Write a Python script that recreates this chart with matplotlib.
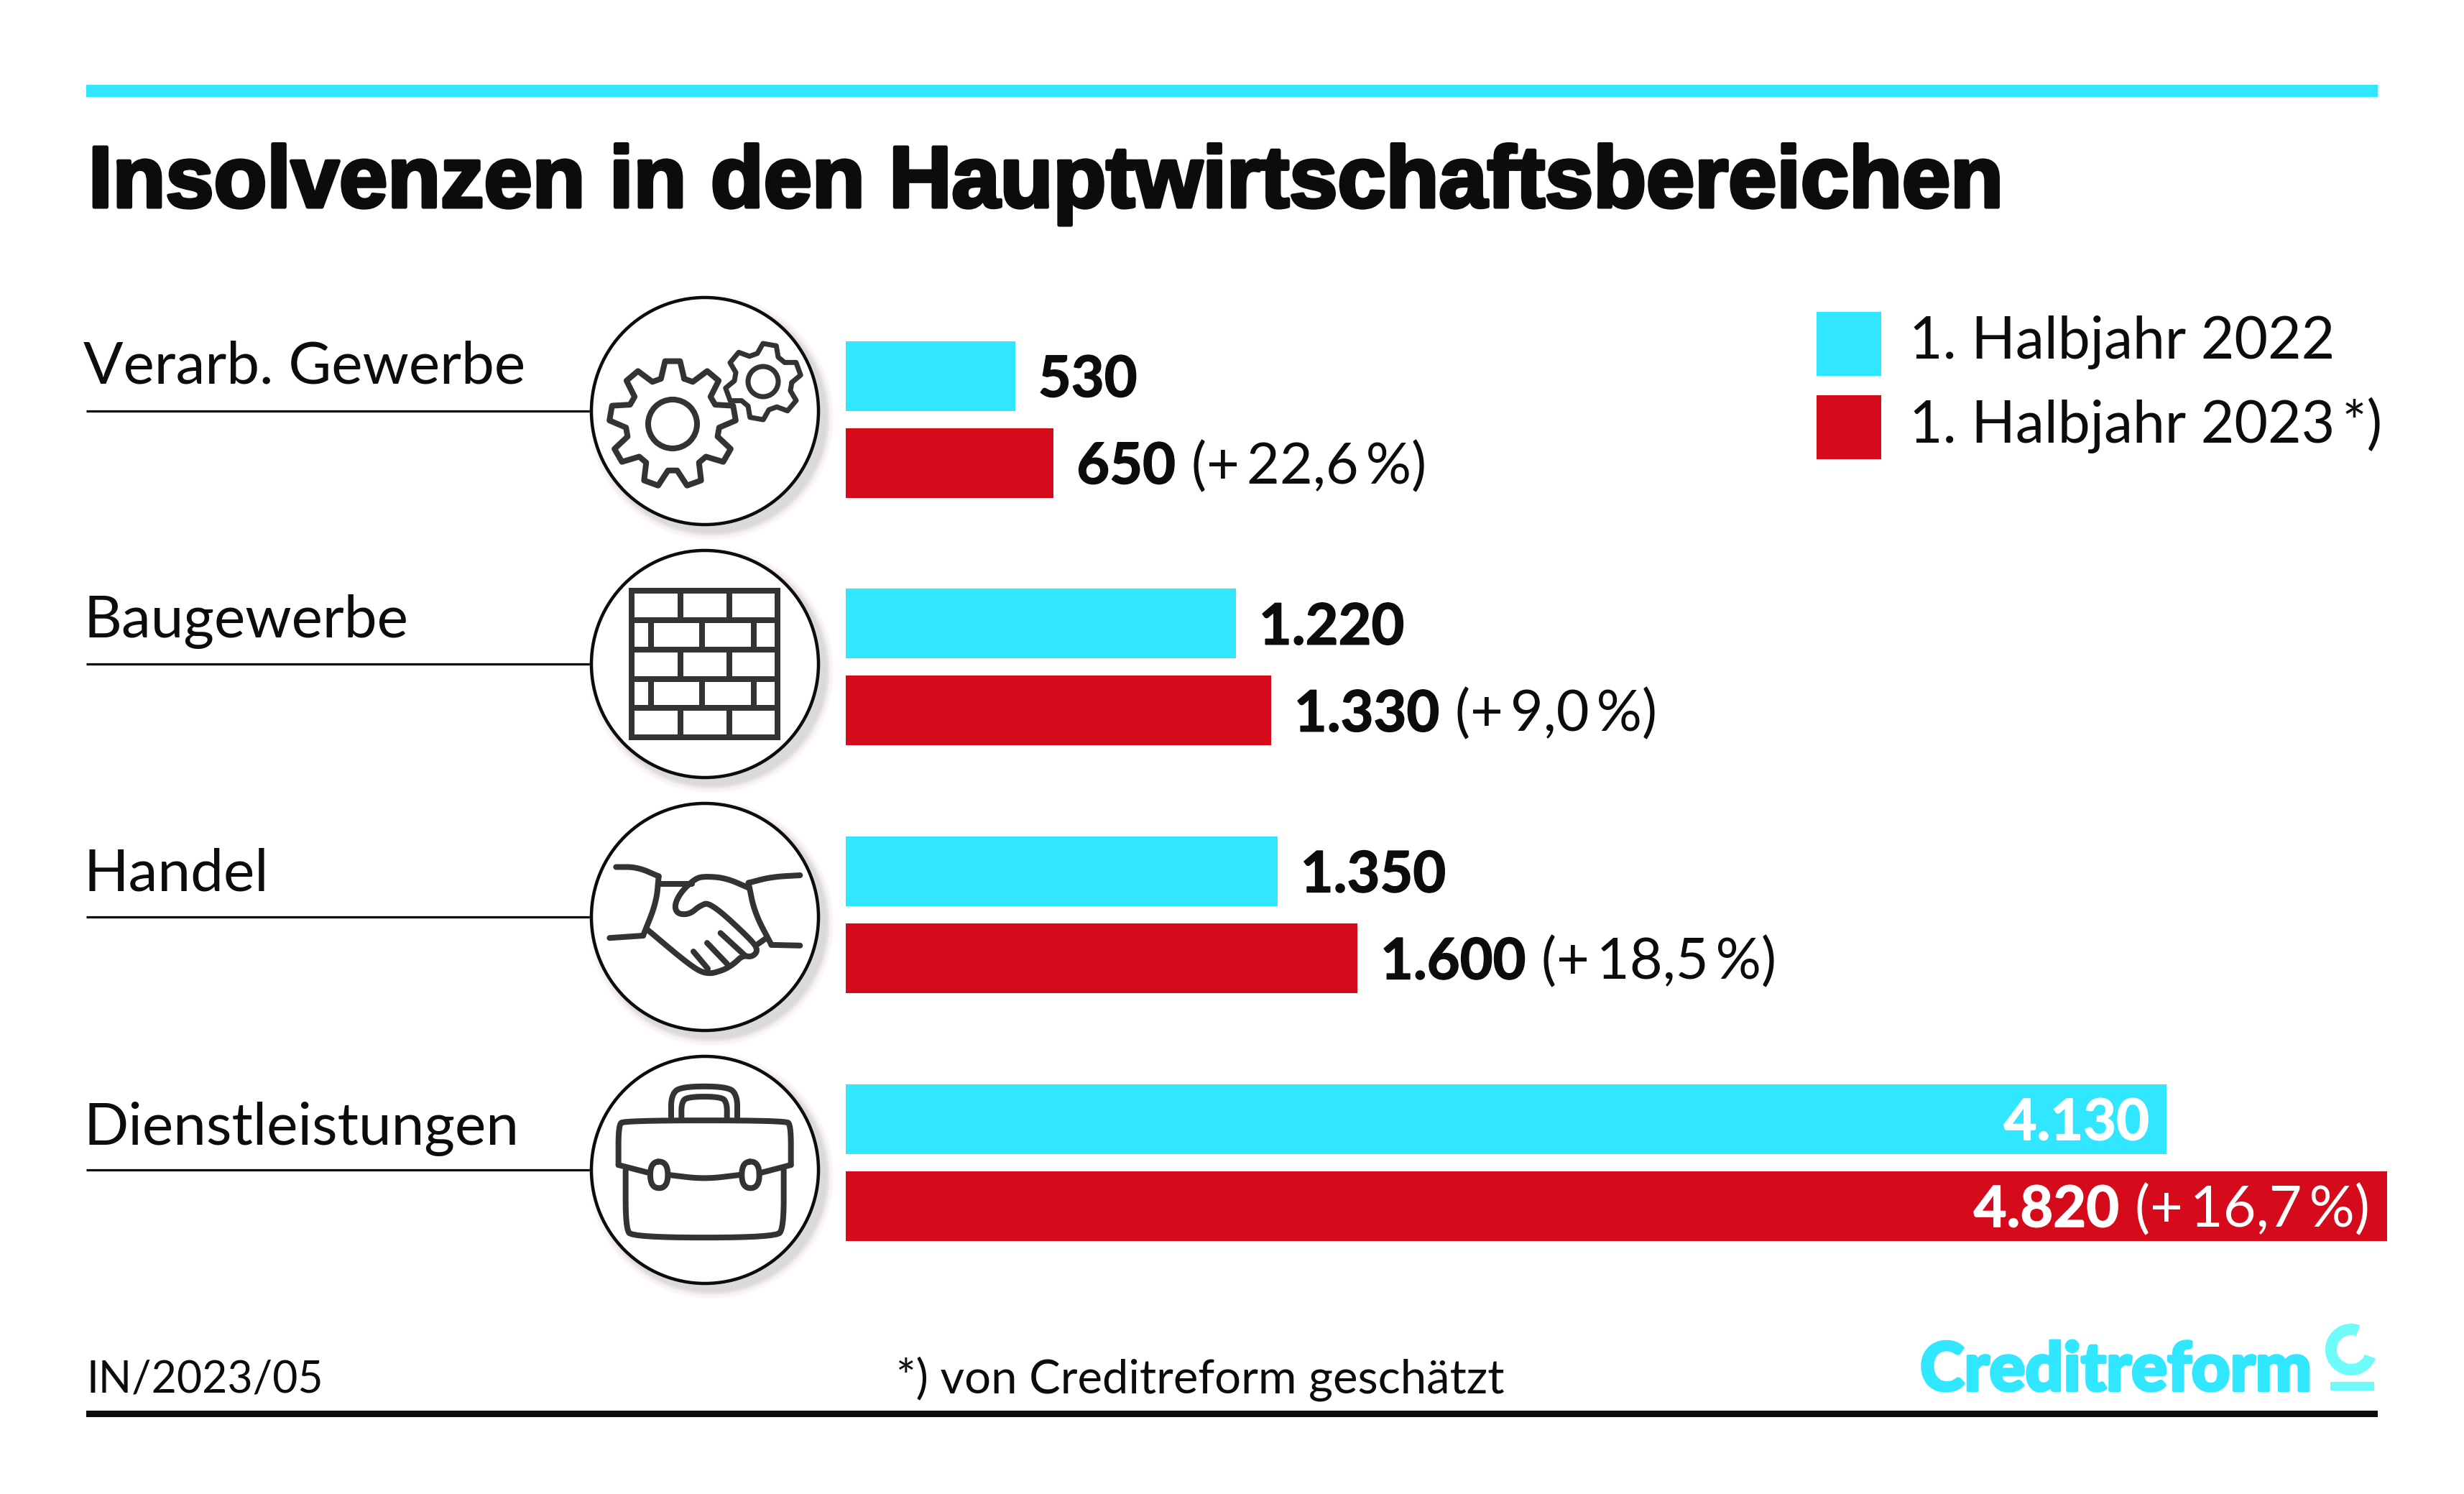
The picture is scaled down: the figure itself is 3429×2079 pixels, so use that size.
import numpy as np
import matplotlib
matplotlib.use('Agg')
import matplotlib.pyplot as plt
import matplotlib.patheffects as pe
from matplotlib.patches import Circle, Rectangle, Wedge

W, H = 3429, 2079

categories = ['Verarb. Gewerbe', 'Baugewerbe', 'Handel', 'Dienstleistungen']
values_2022 = [530, 1220, 1350, 4130]
values_2023 = [650, 1330, 1600, 4820]
labels_2022 = ['530', '1.220', '1.350', '4.130']
labels_2023 = ['650', '1.330', '1.600', '4.820']
changes = ['(+\u200922,6\u2009%)', '(+\u20099,0\u2009%)', '(+\u200918,5\u2009%)', '(+\u200916,7\u2009%)']
legend_labels = ['1. Halbjahr 2022', '1. Halbjahr 2023\u2009*)']

CYAN = '#30E7FF'
RED = '#D50A1A'
BLACK = '#0C0C0C'
ICON = '#333333'
LOGO_LIGHT = '#70FBFB'
FONT = ['Lato', 'DejaVu Sans']
LABEL_SIZE = 59
LEGEND_SIZE = 58
VALUE_SIZE = 57


def lw(px):
    return px * 0.72


def chaikin(pts, n=3, closed=False):
    pts = np.asarray(pts, float)
    for _ in range(n):
        if closed:
            nxt = np.roll(pts, -1, axis=0)
            pts = np.column_stack([0.75 * pts + 0.25 * nxt, 0.25 * pts + 0.75 * nxt]).reshape(-1, 2)
        else:
            a, b = pts[:-1], pts[1:]
            mid = np.column_stack([0.75 * a + 0.25 * b, 0.25 * a + 0.75 * b]).reshape(-1, 2)
            pts = np.vstack([pts[0], mid, pts[-1]])
    return pts


def stroke(ax, pts, width=8, smooth=True, closed=False):
    pts = np.asarray(pts, float)
    if smooth:
        pts = chaikin(pts, closed=closed)
    if closed:
        pts = np.vstack([pts, pts[0]])
    ax.plot(pts[:, 0], pts[:, 1], color=ICON, lw=lw(width), solid_capstyle='round',
            solid_joinstyle='round', zorder=6)


def gear(ax, cx, cy, tip, root, hub, teeth, rot, width=8):
    pts = []
    step = 2 * np.pi / teeth
    for i in range(teeth):
        a = np.radians(rot) + i * step
        for off, r in [(-0.36, root), (-0.17, tip), (0.17, tip), (0.36, root)]:
            aa = a + off * step
            pts.append((cx + r * np.cos(aa), cy - r * np.sin(aa)))
    pts = np.array(pts)
    stroke(ax, np.vstack([pts, pts[0]]), width, smooth=False)
    ax.add_patch(Circle((cx, cy), hub, fill=False, ec=ICON, lw=lw(width), zorder=6))


def handshake_pts(pts):
    return [(780 + x / 3, 1100 + y / 2.178) for x, y in pts]


def draw_gears(ax):
    gear(ax, 936, 590, 88, 65, 34, 9, 90)
    gear(ax, 1062, 531, 53, 40, 21, 6, 20, width=7)


def draw_bricks(ax):
    rows = [822, 863, 904, 945, 985, 1026]
    x0, x1 = 879, 1082
    for y in rows:
        ax.plot([x0, x1], [y, y], color=ICON, lw=lw(8), solid_capstyle='projecting', zorder=6)
    for x in (x0, x1):
        ax.plot([x, x], [rows[0], rows[-1]], color=ICON, lw=lw(8), solid_capstyle='projecting', zorder=6)
    for i in range(5):
        xs = (947, 1015) if i % 2 == 0 else (906, 977, 1049)
        for x in xs:
            ax.plot([x, x], [rows[i], rows[i + 1]], color=ICON, lw=lw(8), solid_capstyle='butt', zorder=6)


def draw_handshake(ax):
    shapes = [
        [(232, 232), (320, 232), (410, 260)],
        [(410, 260), (400, 340), (345, 440)],
        [(345, 440), (345, 440), (205, 447)],
        [(410, 283), (550, 283)],
        [(785, 295), (690, 265), (600, 260), (560, 268), (500, 310), (475, 350), (490, 375), (540, 375),
         (580, 350), (625, 338), (800, 455), (825, 485), (800, 505), (760, 500), (725, 525), (680, 545),
         (610, 558), (540, 530), (360, 420)],
        [(555, 488), (615, 540)],
        [(612, 462), (695, 525)],
        [(668, 432), (770, 500)],
        [(1000, 257), (880, 262), (785, 280)],
        [(785, 280), (810, 370), (880, 467)],
        [(880, 468), (1000, 470)],
        [(825, 465), (860, 447)],
    ]
    for s in shapes:
        stroke(ax, handshake_pts(s), 8)


def draw_case(ax):
    shapes = [
        [(462, 990), (462, 925), (500, 897), (700, 897), (738, 925), (738, 990)],
        [(505, 990), (505, 950), (525, 928), (675, 928), (695, 950), (695, 990)],
        [(242, 1135), (242, 1015), (265, 1000), (940, 1000), (962, 1015), (962, 1135)],
        [(242, 1135), (375, 1160)],
        [(450, 1165), (600, 1178), (750, 1165)],
        [(830, 1160), (962, 1135)],
        [(272, 1150), (272, 1325), (300, 1355), (900, 1355), (932, 1325), (932, 1150)],
    ]
    for s in shapes:
        stroke(ax, handshake_pts(s), 8)
    for x0, x1 in [(375, 448), (757, 830)]:
        box = [(x0, 1125), (x1, 1125), (x1, 1205), (x0, 1205)]
        stroke(ax, handshake_pts(box), 8, closed=True)


def fit_width(fig, txt, target):
    # scale the font until the text has the wanted pixel width
    r = fig.canvas.get_renderer()
    txt.set_fontsize(txt.get_fontsize() * target / txt.get_window_extent(r).width)


def heavy(color, px=1.5):
    return [pe.withStroke(linewidth=lw(px), foreground=color)]


fig = plt.figure(figsize=(W / 100, H / 100), dpi=100, facecolor='white')

ax = fig.add_axes([0, 0, 1, 1])
ax.set_xlim(0, W)
ax.set_ylim(H, 0)
ax.axis('off')

# rules
ax.add_patch(Rectangle((120, 118), 3189, 17, fc=CYAN, ec='none'))
ax.add_patch(Rectangle((120, 1963), 3189, 9, fc=BLACK, ec='none'))

title = ax.text(123, 288, 'Insolvenzen in den Hauptwirtschaftsbereichen', color=BLACK, fontsize=91,
                family=['Liberation Sans Narrow', 'Liberation Sans'], weight='bold', va='baseline',
                path_effects=heavy(BLACK, 5))
fit_width(fig, title, 2665)

# category labels, leader lines, icon circles
circle_y = [572, 924, 1276, 1628]
label_y = [534, 887, 1239, 1593]
for name, cy, ly in zip(categories, circle_y, label_y):
    ax.text(116, ly, name, color=BLACK, fontsize=LABEL_SIZE, family=FONT, va='baseline')
    ax.plot([120, 830], [cy, cy], color=BLACK, lw=lw(3.2), solid_capstyle='butt', zorder=2)
    for k in range(12):
        ax.add_patch(Circle((981 + 9, cy + 9), 159 + 12 - k, fc='#f2dfe2' if k < 6 else '#b0bbc2',
                            ec='none', alpha=0.08, zorder=3))
    ax.add_patch(Circle((981, cy), 158, fc='white', ec=BLACK, lw=lw(4.5), zorder=5))

draw_gears(ax)
draw_bricks(ax)
draw_handshake(ax)
draw_case(ax)

# legend
for y, color, label, base in zip((434, 550), (CYAN, RED), legend_labels, (499, 616)):
    ax.add_patch(Rectangle((2528, y), 90, 89, fc=color, ec='none'))
    ax.text(2657, base, label, color=BLACK, fontsize=LEGEND_SIZE, family=FONT, va='baseline')

# footer
t = ax.text(120, 1938, 'IN/2023/05', color=BLACK, fontsize=46, family=FONT, va='baseline')
fit_width(fig, t, 330)
t = ax.text(1247, 1938, '*) von Creditreform geschätzt', color=BLACK, fontsize=46, family=FONT, va='baseline')
fit_width(fig, t, 846)

# logo
t = ax.text(2672, 1935, 'Creditreform', color=CYAN, fontsize=62, family=FONT, weight='black', va='baseline',
            path_effects=heavy(CYAN, 4))
fit_width(fig, t, 545)
ax.add_patch(Wedge((3272, 1878), 36, 20, 290, width=16, fc=LOGO_LIGHT, ec='none'))
ax.add_patch(Rectangle((3243, 1923), 61, 12, fc=LOGO_LIGHT, ec='none'))

# bars
px_per_unit = 0.445
group_px = 344.7
first_px = 583.5
top_px, bottom_px = 420, 1780
left_px, right_px = 1177, 3400

bar_ax = fig.add_axes([left_px / W, 1 - bottom_px / H, (right_px - left_px) / W, (bottom_px - top_px) / H])
bar_ax.patch.set_alpha(0)
bar_ax.set_xlim(0, (right_px - left_px) / px_per_unit)
bar_ax.set_ylim((bottom_px - first_px) / group_px, (top_px - first_px) / group_px)
bar_ax.axis('off')

pos = np.arange(len(categories))
offset = 60.5 / group_px
height = 97 / group_px
bar_ax.barh(pos - offset, values_2022, height=height, color=CYAN)
bar_ax.barh(pos + offset, values_2023, height=height, color=RED)

fig.canvas.draw()
r = fig.canvas.get_renderer()
for i in pos:
    inside = values_2023[i] > 3000
    y22, y23 = i - offset, i + offset
    if inside:
        bar_ax.annotate(labels_2022[i], (values_2022[i], y22), xytext=(-24, -29), textcoords='offset pixels',
                        ha='right', va='baseline', color='white', fontsize=VALUE_SIZE, family=FONT, weight='bold',
                        path_effects=heavy('white'))
        ch = bar_ax.annotate(changes[i], (values_2023[i], y23), xytext=(-24, -29), textcoords='offset pixels',
                             ha='right', va='baseline', color='white', fontsize=VALUE_SIZE, family=FONT)
        gap = -(ch.get_window_extent(r).width + 24 + 22)
        bar_ax.annotate(labels_2023[i], (values_2023[i], y23), xytext=(gap, -29), textcoords='offset pixels',
                        ha='right', va='baseline', color='white', fontsize=VALUE_SIZE, family=FONT, weight='bold',
                        path_effects=heavy('white'))
    else:
        bar_ax.annotate(labels_2022[i], (values_2022[i], y22), xytext=(32, -29), textcoords='offset pixels',
                        va='baseline', color=BLACK, fontsize=VALUE_SIZE, family=FONT, weight='bold',
                        path_effects=heavy(BLACK))
        v = bar_ax.annotate(labels_2023[i], (values_2023[i], y23), xytext=(32, -29), textcoords='offset pixels',
                            va='baseline', color=BLACK, fontsize=VALUE_SIZE, family=FONT, weight='bold',
                            path_effects=heavy(BLACK))
        gap = 32 + v.get_window_extent(r).width + 22
        bar_ax.annotate(changes[i], (values_2023[i], y23), xytext=(gap, -29), textcoords='offset pixels',
                        va='baseline', color=BLACK, fontsize=VALUE_SIZE, family=FONT)

fig.savefig('out.png', dpi=100, facecolor='white')
